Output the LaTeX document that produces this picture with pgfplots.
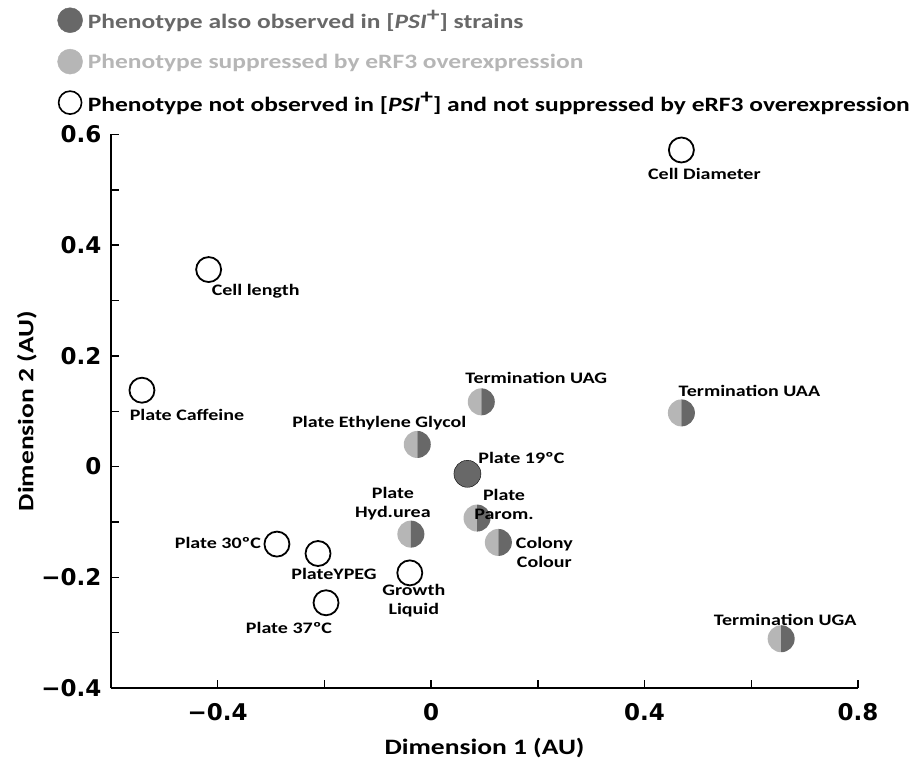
\documentclass[border=0pt]{standalone}
\usepackage{fontspec}
\setmainfont{Carlito}[FakeStretch=1.25]
\newfontfamily\tickfont{DejaVu Sans}
\usepackage{pgfplots}
\pgfplotsset{compat=1.18}

\definecolor{darkg}{RGB}{104,104,104}
\definecolor{lightg}{RGB}{182,182,182}

\newcommand{\psip}{[\textit{PSI}\raisebox{0.38em}{+}]}

% left half light, right half dark
\pgfdeclareplotmark{halfdisc}{%
  \pgfpathmoveto{\pgfqpoint{0pt}{\pgfplotmarksize}}%
  \pgfpatharc{90}{270}{\pgfplotmarksize}%
  \pgfpathclose
  \pgfsetfillcolor{lightg}\pgfusepathqfill
  \pgfpathmoveto{\pgfqpoint{0pt}{-\pgfplotmarksize}}%
  \pgfpatharc{-90}{90}{\pgfplotmarksize}%
  \pgfpathclose
  \pgfsetfillcolor{darkg}\pgfusepathqfill
}

\pgfplotsset{
  open/.style={only marks, mark=*, mark size=12.5pt, forget plot,
    mark options={draw=black, fill=white, line width=1.8pt}},
  dark/.style={only marks, mark=*, mark size=13.5pt, forget plot,
    mark options={draw=none, fill=darkg}},
  half/.style={only marks, mark=halfdisc, mark size=13.5pt, forget plot},
  lab/.style n args={3}{nodes near coords={#1},
    nodes near coords style={anchor=center, xshift=#2, yshift=#3,
      align=center, text=black, inner sep=0pt,
      font=\bfseries\fontsize{16}{19}\selectfont}},
}

\begin{document}
\begin{tikzpicture}
\useasboundingbox (-111pt,-75pt) rectangle (798pt,688pt);
\begin{axis}[
  scale only axis, width=747pt, height=553.5pt,
  xmin=-0.6, xmax=0.8, ymin=-0.4, ymax=0.6,
  axis lines=left, axis line style={-, line width=1.4pt},
  tick align=inside, tick style={line width=1.4pt, black},
  major tick length=8pt, minor tick length=8pt,
  xtick={-0.4,0,0.4,0.8}, xticklabels={−0.4,0,0.4,0.8},
  minor xtick={-0.2,0.2,0.6},
  ytick={-0.4,-0.2,0,0.2,0.4,0.6},
  yticklabels={−0.4,−0.2,0,0.2,0.4,0.6},
  minor ytick={-0.3,-0.1,0.1,0.3,0.5},
  ticklabel style={font=\tickfont\bfseries\fontsize{23}{23}\selectfont},
  xticklabel style={yshift=-12pt},
  yticklabel style={xshift=-6pt},
  xlabel={Dimension 1 (AU)}, ylabel={Dimension 2 (AU)},
  label style={font=\bfseries\fontsize{22}{24}\selectfont},
  xlabel style={at={(axis description cs:0.5,-0.108)}, anchor=center},
  ylabel style={at={(axis description cs:-0.1125,0.5)}, anchor=center},
  clip=false,
  legend style={at={(axis description cs:-0.072,1.035)}, anchor=south west,
    draw=none, fill=none, inner sep=0pt, row sep=16pt,
    font=\bfseries\fontsize{20.4}{22}\selectfont,
    /tikz/every odd column/.style={column sep=3pt}},
  legend cell align=left,
]
\addlegendimage{legend image code/.code={\fill[darkg] (0pt,0pt) circle (12.5pt);}}
\addlegendentry{\textcolor{darkg}{Phenotype also observed in \psip{} strains}}
\addlegendimage{legend image code/.code={\fill[lightg] (0pt,0pt) circle (12.5pt);}}
\addlegendentry{\textcolor{lightg}{Phenotype suppressed by eRF3 overexpression}}
\addlegendimage{legend image code/.code={\draw[line width=1.6pt, fill=white] (0pt,0pt) circle (11.5pt);}}
\addlegendentry{Phenotype not observed in \psip{} and not suppressed by eRF3 overexpression}

% phenotypes not observed in [PSI+], not suppressed
\addplot[open, lab={Cell Diameter}{23pt}{-24pt}] coordinates {(0.469,0.572)};
\addplot[open, lab={Cell length}{47pt}{-22pt}] coordinates {(-0.417,0.356)};
\addplot[open, lab={Plate Caffeine}{45pt}{-25pt}] coordinates {(-0.542,0.138)};
\addplot[open, lab={Plate 30ºC}{-59pt}{1pt}] coordinates {(-0.289,-0.140)};
\addplot[open, lab={PlateYPEG}{16pt}{-20pt}] coordinates {(-0.212,-0.157)};
\addplot[open, lab={Plate 37ºC}{-37pt}{-25pt}] coordinates {(-0.197,-0.246)};
\addplot[open, lab={Growth\\Liquid}{4pt}{-28pt}] coordinates {(-0.040,-0.192)};

% also observed in [PSI+]
\addplot[dark, lab={Plate 19ºC}{54pt}{16pt}] coordinates {(0.068,-0.013)};

% suppressed by eRF3 overexpression
\addplot[half, lab={Termination UAG}{55pt}{24pt}] coordinates {(0.094,0.117)};
\addplot[half, lab={Termination UAA}{68pt}{22pt}] coordinates {(0.469,0.097)};
\addplot[half, lab={Termination UGA}{4pt}{19pt}] coordinates {(0.656,-0.311)};
\addplot[half, lab={Plate Ethylene Glycol}{-38pt}{21pt}] coordinates {(-0.026,0.040)};
\addplot[half, lab={Plate\\Parom.}{27pt}{14pt}] coordinates {(0.086,-0.093)};
\addplot[half, lab={Plate\\Hyd.urea}{-18pt}{30pt}] coordinates {(-0.038,-0.122)};
\addplot[half, lab={Colony\\Colour}{46pt}{-10pt}] coordinates {(0.126,-0.137)};
\end{axis}
\end{tikzpicture}
\end{document}
